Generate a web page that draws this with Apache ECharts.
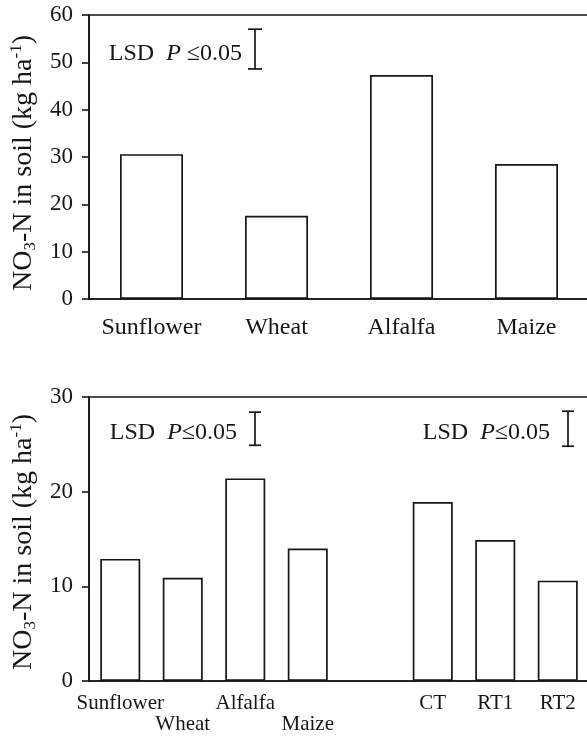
<!DOCTYPE html>
<html>
<head>
<meta charset="utf-8">
<style>
  html, body { margin: 0; padding: 0; background: #fff; }
  #chart { width: 587px; height: 736px; }
</style>
<script src="https://cdn.jsdelivr.net/npm/echarts@6/dist/echarts.min.js"></script>
</head>
<body>
<div id="chart"></div>
<script>
// ---- data ----
const topCategories = ['Sunflower', 'Wheat', 'Alfalfa', 'Maize'];
const topValues = [30.6, 17.6, 47.3, 28.5];
const topTickMax = 60;
const topTickStep = 10;
const topLsd = [[0.332, 57.0, 48.6]];           // [x fraction of plot, upper, lower]
const topLsdLabels = ['LSD  P ≤0.05'];

const bottomCategories = ['Sunflower', 'Wheat', 'Alfalfa', 'Maize', '', 'CT', 'RT1', 'RT2'];
const bottomValues = [12.9, 10.9, 21.4, 14.0, null, 18.9, 14.9, 10.6];
const bottomTickMax = 30;
const bottomTickStep = 10;
const bottomLsd = [[0.332, 28.4, 24.9], [0.958, 28.5, 24.8]];
const bottomLsdLabels = ['LSD  P≤0.05', 'LSD  P≤0.05'];

// ---- styling ----
const FONT = '"Liberation Serif", "Times New Roman", serif';
const INK = '#161616';

const yName = '{m|NO}{sub|3}{m|-N in soil (kg ha}{sup|-1}{m|)}';
function yNameStyle(shift) {
  return {
    fontFamily: FONT, color: INK, padding: [0, shift, 0, 0],
    rich: {
      m: { fontFamily: FONT, fontSize: 28, color: INK },
      sub: { fontFamily: FONT, fontSize: 17, color: INK, padding: [13, 0, 0, 0] },
      sup: { fontFamily: FONT, fontSize: 17, color: INK, padding: [0, 0, 16, 0] }
    }
  };
}

function lsdRenderer(labels, fontSize, textGap, textShift, capHalf) {
  return function (params, api) {
    const x = api.value(0), hi = api.value(1), lo = api.value(2);
    const pt = api.coord([x, hi]);
    const pb = api.coord([x, lo]);
    const label = labels[params.dataIndex];
    const parts = label.split('P');
    return {
      type: 'group',
      children: [
        { type: 'line', shape: { x1: pt[0], y1: pt[1], x2: pb[0], y2: pb[1] }, style: { stroke: INK, lineWidth: 1.7 } },
        { type: 'line', shape: { x1: pt[0] - capHalf, y1: pt[1], x2: pt[0] + capHalf, y2: pt[1] }, style: { stroke: INK, lineWidth: 1.7 } },
        { type: 'line', shape: { x1: pb[0] - capHalf, y1: pb[1], x2: pb[0] + capHalf, y2: pb[1] }, style: { stroke: INK, lineWidth: 1.7 } },
        {
          type: 'text',
          style: {
            x: pt[0] - textGap,
            y: (pt[1] + pb[1]) / 2 + textShift,
            text: '{n|' + parts[0] + '}{i|P}{n|' + parts[1] + '}',
            align: 'right',
            verticalAlign: 'middle',
            textAlign: 'right',
            textVerticalAlign: 'middle',
            rich: {
              n: { fontFamily: FONT, fontSize: fontSize, fill: INK, color: INK },
              i: { fontFamily: FONT, fontSize: fontSize, fontStyle: 'italic', fill: INK, color: INK }
            }
          }
        }
      ]
    };
  };
}

const chart = echarts.init(document.getElementById('chart'), null, { renderer: 'canvas' });

const option = {
  backgroundColor: '#fff',
  animation: false,
  grid: [
    { left: 89, top: 15, width: 500, height: 284, show: true, borderColor: INK, borderWidth: 1.6, backgroundColor: 'transparent', outerBoundsMode: 'none' },
    { left: 89, top: 397, width: 500, height: 284, show: true, borderColor: INK, borderWidth: 1.6, backgroundColor: 'transparent', outerBoundsMode: 'none' }
  ],
  xAxis: [
    {
      type: 'category', gridIndex: 0, data: topCategories,
      axisLine: { lineStyle: { color: INK, width: 1.6 } },
      axisTick: { show: false },
      axisLabel: { fontFamily: FONT, fontSize: 24, color: INK, margin: 17, interval: 0, hideOverlap: false }
    },
    {
      type: 'category', gridIndex: 1, data: bottomCategories,
      axisLine: { lineStyle: { color: INK, width: 1.6 } },
      axisTick: { show: false },
      axisLabel: {
        fontFamily: FONT, fontSize: 21, color: INK, margin: 12, interval: 0, lineHeight: 21, hideOverlap: false,
        formatter: function (v, i) { return (i === 1 || i === 3) ? '\n' + v : v; }
      }
    },
    { type: 'value', gridIndex: 0, min: 0, max: 1, show: false },
    { type: 'value', gridIndex: 1, min: 0, max: 1, show: false }
  ],
  yAxis: [
    {
      type: 'value', gridIndex: 0, min: 0, max: topTickMax, interval: topTickStep,
      name: yName, nameLocation: 'middle', nameGap: 48, nameTextStyle: yNameStyle(12),
      axisLine: { show: true, lineStyle: { color: INK, width: 1.6 } },
      axisTick: { show: true, length: 7, lineStyle: { color: INK, width: 1.6 } },
      axisLabel: { fontFamily: FONT, fontSize: 23, color: INK, margin: 16 },
      splitLine: { show: false }
    },
    {
      type: 'value', gridIndex: 1, min: 0, max: bottomTickMax, interval: bottomTickStep,
      name: yName, nameLocation: 'middle', nameGap: 45, nameTextStyle: yNameStyle(6),
      axisLine: { show: true, lineStyle: { color: INK, width: 1.6 } },
      axisTick: { show: true, length: 7, lineStyle: { color: INK, width: 1.6 } },
      axisLabel: { fontFamily: FONT, fontSize: 23, color: INK, margin: 16 },
      splitLine: { show: false }
    }
  ],
  series: [
    {
      type: 'bar', xAxisIndex: 0, yAxisIndex: 0, data: topValues, barWidth: 63,
      itemStyle: { color: '#fff', borderColor: INK, borderWidth: 1.7 }
    },
    {
      type: 'bar', xAxisIndex: 1, yAxisIndex: 1, data: bottomValues, barWidth: 40,
      itemStyle: { color: '#fff', borderColor: INK, borderWidth: 1.7 }
    },
    {
      type: 'custom', xAxisIndex: 2, yAxisIndex: 0, data: topLsd,
      renderItem: lsdRenderer(topLsdLabels, 24, 13, 5, 7), silent: true, clip: false
    },
    {
      type: 'custom', xAxisIndex: 3, yAxisIndex: 1, data: bottomLsd,
      renderItem: lsdRenderer(bottomLsdLabels, 24, 18, 4, 6), silent: true, clip: false
    }
  ]
};
chart.setOption(option);
</script>
</body>
</html>
